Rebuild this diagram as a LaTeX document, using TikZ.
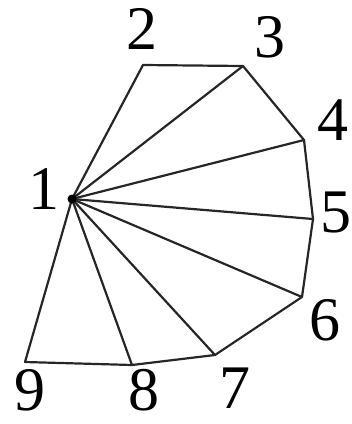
\documentclass[tikz,border=0pt]{standalone}
\usepackage{fontspec}
\setmainfont{Liberation Serif}
\usepackage{tikz}
\usetikzlibrary{positioning, calc}

\begin{document}
\begin{tikzpicture}[x=1pt, y=-1pt,
    edge/.style={line width=2.2pt, line join=round, black!85},
    lbl/.style={font=\fontsize{62}{62}\selectfont, inner sep=0pt}]
    \useasboundingbox (0,0) rectangle (352,424);

    % Polygon vertices
    \coordinate (v1) at (72, 199);
    \coordinate (v2) at (143, 65);
    \coordinate (v3) at (243, 66);
    \coordinate (v4) at (304, 140);
    \coordinate (v5) at (313, 219);
    \coordinate (v6) at (302, 297);
    \coordinate (v7) at (215, 355);
    \coordinate (v8) at (132, 365);
    \coordinate (v9) at (25, 362);

    % Outer boundary
    \draw[edge] (v1) -- (v2) -- (v3) -- (v4) -- (v5) -- (v6) -- (v7) -- (v8) -- (v9) -- cycle;

    % Fan of diagonals from vertex 1
    \foreach \i in {3,...,8}
        \draw[edge] (v1) -- (v\i);
    \fill (v1) circle (4.5pt);

    % Vertex labels
    \node[lbl] (n1) at (44, 189) {1};
    \node[lbl] (n2) at (142, 29) {2};
    \node[lbl] (n3) at (270, 37) {3};
    \node[lbl] (n4) at (333, 120) {4};
    \node[lbl] (n5) at (336, 212) {5};
    \node[lbl] (n6) at (325, 320) {6};
    \node[lbl] (n7) at (235, 388) {7};
    \node[lbl] (n8) at (144, 390) {8};
    \node[lbl] (n9) at (30, 390) {9};

\end{tikzpicture}
\end{document}
